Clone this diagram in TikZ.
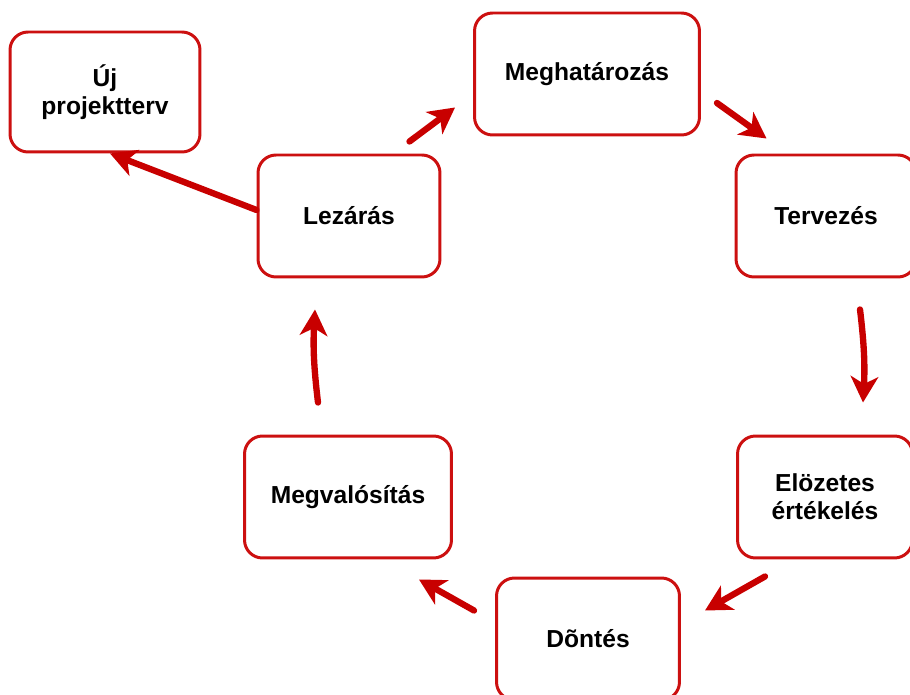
\documentclass[tikz,border=0pt]{standalone}
\usepackage{fontspec}
\setmainfont{Liberation Sans}
\usetikzlibrary{arrows.meta}
\definecolor{boxred}{RGB}{204,16,16}
\definecolor{arrowred}{RGB}{200,0,0}

\begin{document}
\begin{tikzpicture}[x=0.02cm, y=-0.02cm,
  phase/.style={draw=boxred, line width=1.7pt, rounded corners=0.36cm,
    fill=white, align=center, minimum height=2.44cm, inner sep=2pt,
    font=\bfseries\fontsize{14}{16}\selectfont},
  flow/.style={draw=arrowred, line width=3.6pt, line cap=round,
    -{Stealth[length=0.52cm, width=0.55cm, inset=0.15cm, fill=arrowred]}}]
  \useasboundingbox (0,0) rectangle (910,695);
  \clip (0,0) rectangle (910,695);
  \node (Uj) [phase, minimum width=3.8cm, minimum height=2.4cm] at (105,92) {Új\\projektterv};
  \node (Megh) [phase, minimum width=4.5cm] at (587,74) {Meghatározás};
  \node (Terv) [phase, minimum width=3.6cm] at (826,216) {Tervezés};
  \node (Eloz) [phase, minimum width=3.5cm] at (825,497) {Elözetes\\értékelés};
  \node (Dont) [phase, minimum width=3.66cm] at (588,639) {Dõntés};
  \node (Megv) [phase, minimum width=4.14cm] at (348,497) {Megvalósítás};
  \node (Lez) [phase, minimum width=3.64cm] at (349,216) {Lezárás};
  \draw[flow] ([shift={(0,-6)}]Lez.west) -- ([shift={(5,0)}]Uj.south);
  \draw[flow] ([shift={(-32,-12)}]Lez.north east) -- ([shift={(-18,-29)}]Megh.south west);
  \draw[flow] ([shift={(16,29)}]Megh.east) -- ([shift={(32,-15)}]Terv.north west);
  \draw[flow] ([shift={(34,31)}]Terv.south) to[bend left=5] ([shift={(38,-32)}]Eloz.north);
  \draw[flow] ([shift={(-60,17)}]Eloz.south) -- ([shift={(24,34)}]Dont.north east);
  \draw[flow] ([shift={(-21,34)}]Dont.north west) -- ([shift={(-34,20)}]Megv.south east);
  \draw[flow] ([shift={(-30,-32)}]Megv.north) to[bend left=5] ([shift={(-34,31)}]Lez.south);
\end{tikzpicture}
\end{document}
